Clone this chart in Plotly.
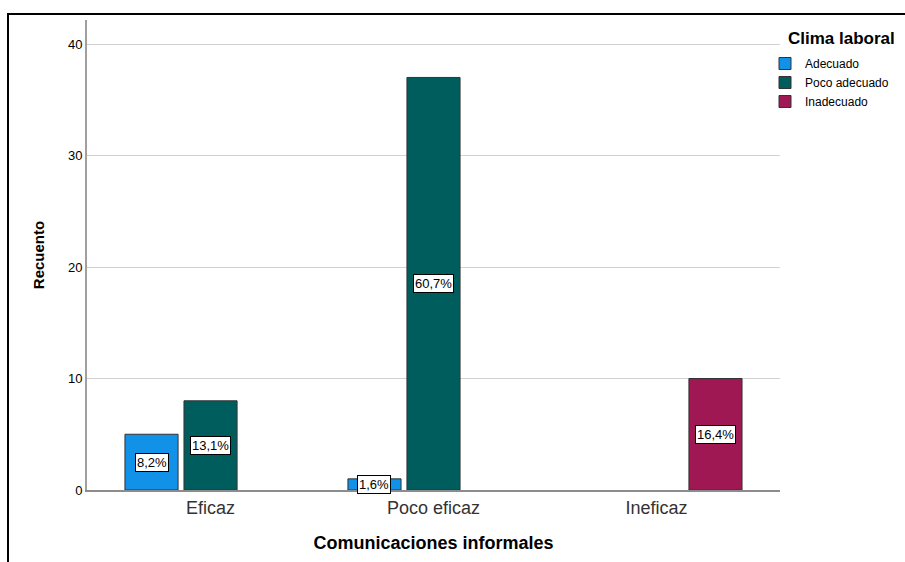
import plotly.graph_objects as go

# Recuento por categoría de comunicación informal y clima laboral
categories = ["Eficaz", "Poco eficaz", "Ineficaz"]
series_names = ["Adecuado", "Poco adecuado", "Inadecuado"]
adecuado = [5, 1, None]
poco_adecuado = [8, 37, None]
inadecuado = [None, None, 10]
series_values = [adecuado, poco_adecuado, inadecuado]
colors = ["#1192e8", "#005d5d", "#9f1853"]
y_ticks = [0, 10, 20, 30, 40]

total = sum(v for s in series_values for v in s if v is not None)

W, H = 905, 562
L, R, T, B = 87, 125, 20, 72
plot_w = W - L - R
plot_h = H - T - B

bargap = 0.206
bargroupgap = 0.10
font = "Liberation Sans, Arial, sans-serif"


def px_x(px):
    return (px - L) / plot_w


def px_y(py):
    return (H - B - py) / plot_h


fig = go.Figure()
for name, vals, col in zip(series_names, series_values, colors):
    fig.add_trace(go.Bar(
        name=name, x=categories, y=vals,
        marker=dict(color=col, line=dict(color="#333333", width=1)),
    ))

# Etiquetas de porcentaje centradas en cada barra
n = len(series_names)
slot = (1 - bargap) / n
annotations = []
for j, vals in enumerate(series_values):
    for i, v in enumerate(vals):
        if v is None:
            continue
        pct = f"{v / total * 100:.1f}".replace(".", ",") + "%"
        annotations.append(dict(
            x=i + (j - (n - 1) / 2) * slot, y=v / 2, xref="x", yref="y",
            text=pct, showarrow=False,
            font=dict(family=font, size=13, color="#000000"),
            bgcolor="#ffffff", bordercolor="#000000", borderwidth=1, borderpad=1,
        ))

annotations.append(dict(
    x=px_x(786), y=px_y(38), xref="paper", yref="paper",
    xanchor="left", yanchor="middle", text="<b>Clima laboral</b>",
    showarrow=False, font=dict(family=font, size=17, color="#000000"),
))

fig.update_layout(
    width=W, height=H,
    margin=dict(l=L, r=R, t=T, b=B, autoexpand=False),
    paper_bgcolor="#ffffff", plot_bgcolor="#ffffff",
    barmode="group", bargap=bargap, bargroupgap=bargroupgap,
    font=dict(family=font, color="#000000"),
    showlegend=True,
    legend=dict(
        x=px_x(765), y=px_y(49), xanchor="left", yanchor="top",
        font=dict(family=font, size=12, color="#000000"),
        bgcolor="rgba(0,0,0,0)", tracegroupgap=0,
    ),
    annotations=annotations,
    shapes=[dict(
        type="path", xref="paper", yref="paper",
        path=f"M {px_x(8)} {px_y(600)} L {px_x(8)} {px_y(14)} L {px_x(960)} {px_y(14)}",
        line=dict(color="#000000", width=2),
    )],
)

fig.update_xaxes(
    type="category", categoryorder="array", categoryarray=categories,
    range=[-0.554, 2.554],
    showline=True, linecolor="#8c8c8c", linewidth=2,
    showgrid=False, ticks="",
    tickfont=dict(family=font, size=18, color="#333333"),
    title=dict(text="<b>Comunicaciones informales</b>",
               font=dict(family=font, size=18, color="#000000"), standoff=20),
)
fig.update_yaxes(
    range=[0, plot_h / 11.15],
    tickvals=y_ticks, ticks="",
    showline=True, linecolor="#a0a0a0", linewidth=2,
    showgrid=True, gridcolor="#d2d2d2", gridwidth=1,
    zeroline=False,
    tickfont=dict(family=font, size=13, color="#000000"),
    title=dict(text="<b>Recuento</b>",
               font=dict(family=font, size=15, color="#000000"), standoff=20),
)

fig.write_html("out.html")
